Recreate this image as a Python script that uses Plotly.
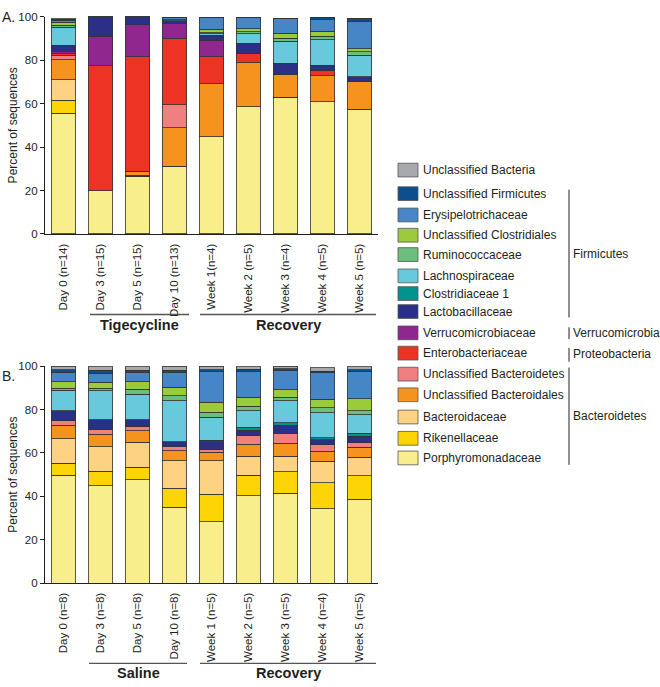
import plotly.graph_objects as go

W, H = 660, 687

# ---------------- data ----------------
families = [
    "Porphyromonadaceae", "Rikenellaceae", "Bacteroidaceae", "Unclassified Bacteroidales",
    "Unclassified Bacteroidetes", "Enterobacteriaceae", "Verrucomicrobiaceae", "Lactobacillaceae",
    "Clostridiaceae 1", "Lachnospiraceae", "Ruminococcaceae", "Unclassified Clostridiales",
    "Erysipelotrichaceae", "Unclassified Firmicutes", "Unclassified Bacteria",
]
colors = [
    "#F8EE8C", "#FDD406", "#FDD283", "#F6921E",
    "#F07F7F", "#EC3324", "#8F278F", "#2C2F86",
    "#01948F", "#68C8DC", "#6CBE7C", "#9BCB3B",
    "#4686C6", "#0D4E8C", "#A7A9AC",
]

categories_A = ["Day 0 (n=14)", "Day 3 (n=15)", "Day 5 (n=15)", "Day 10 (n=13)",
                "Week 1(n=4)", "Week 2 (n=5)", "Week 3 (n=4)", "Week 4 (n=5)", "Week 5 (n=5)"]
categories_B = ["Day 0 (n=8)", "Day 3 (n=8)", "Day 5 (n=8)", "Day 10 (n=8)",
                "Week 1 (n=5)", "Week 2 (n=5)", "Week 3 (n=5)", "Week 4 (n=4)", "Week 5 (n=5)"]

# Panel A (tigecycline), percent per family
porph_A    = [55.5, 19.8, 26.6, 31.2, 44.7, 58.5, 63.0, 60.9, 57.5]
riken_A    = [6.0, 0, 0, 0, 0, 0, 0, 0, 0]
bactac_A   = [9.5, 0, 0.5, 0, 0, 0, 0, 0, 0]
ubales_A   = [9.3, 0, 1.7, 17.7, 24.5, 20.4, 10.6, 12.0, 12.5]
ubetes_A   = [1.8, 0, 0, 10.5, 0, 0, 0, 0, 0]
entero_A   = [1.0, 57.7, 52.8, 30.5, 12.4, 4.2, 0, 2.4, 0]
verru_A    = [0.7, 13.5, 14.8, 7.2, 7.7, 0, 0, 0, 0]
lacto_A    = [3.0, 9.0, 3.6, 1.0, 2.1, 4.8, 5.0, 2.5, 2.4]
clost1_A   = [0.2, 0, 0, 0, 0, 0, 0, 0, 0]
lachno_A   = [8.3, 0, 0, 0.5, 0.8, 4.3, 10.1, 11.7, 10.0]
rumino_A   = [0.8, 0, 0, 0, 0.5, 1.0, 1.5, 1.5, 1.5]
uclostr_A  = [1.5, 0, 0, 0, 1.5, 1.2, 2.3, 2.4, 1.5]
erysip_A   = [0.6, 0, 0, 1.0, 5.5, 5.3, 6.6, 5.5, 12.6]
ufirm_A    = [0.6, 0, 0, 0.3, 0, 0, 0, 0.8, 1.0]
ubact_A    = [0.3, 0, 0, 0, 0, 0, 0, 0, 0]

# Panel B (saline)
porph_B    = [49.6, 44.8, 47.6, 35.0, 28.2, 40.3, 41.5, 34.3, 38.6]
riken_B    = [5.7, 6.8, 5.8, 8.6, 12.8, 9.5, 9.8, 12.0, 10.9]
bactac_B   = [11.1, 11.2, 11.4, 12.8, 15.4, 8.6, 7.1, 9.9, 8.5]
ubales_B   = [6.4, 5.7, 5.4, 4.6, 3.8, 5.6, 6.1, 4.5, 4.7]
ubetes_B   = [2.1, 2.3, 2.1, 1.8, 1.2, 4.2, 4.2, 3.0, 2.3]
entero_B   = [0, 0, 0, 0, 0, 0, 0, 0, 0]
verru_B    = [0, 0, 0, 0, 0, 0, 0, 0, 0]
lacto_B    = [4.5, 4.5, 3.0, 2.4, 3.8, 2.3, 4.1, 2.3, 2.7]
clost1_B   = [0, 0, 0, 0, 0.6, 1.2, 1.0, 1.0, 1.3]
lachno_B   = [9.5, 13.3, 11.8, 18.8, 10.7, 7.8, 10.3, 11.4, 8.6]
rumino_B   = [0.8, 1.2, 2.3, 2.3, 2.3, 1.9, 1.5, 2.4, 1.9]
uclostr_B  = [3.0, 2.7, 3.3, 4.0, 4.5, 4.2, 3.5, 4.0, 5.5]
erysip_B   = [4.5, 4.0, 4.4, 6.6, 14.1, 11.8, 8.7, 12.1, 12.6]
ufirm_B    = [1.0, 1.5, 1.0, 1.1, 1.0, 1.2, 1.0, 0.8, 0.8]
ubact_B    = [1.7, 1.8, 1.6, 1.9, 1.5, 1.2, 1.2, 1.5, 1.4]

values_A = [porph_A, riken_A, bactac_A, ubales_A, ubetes_A, entero_A, verru_A, lacto_A,
            clost1_A, lachno_A, rumino_A, uclostr_A, erysip_A, ufirm_A, ubact_A]
values_B = [porph_B, riken_B, bactac_B, ubales_B, ubetes_B, entero_B, verru_B, lacto_B,
            clost1_B, lachno_B, rumino_B, uclostr_B, erysip_B, ufirm_B, ubact_B]

y_ticks = [0, 20, 40, 60, 80, 100]
y_title = "Percent of sequences"

# ---------------- figure ----------------
def px(x):
    return x / W

def py(y):
    return 1 - y / H

FONT = "Arial, Liberation Sans, sans-serif"
TXT = "#231f20"

fig = go.Figure()
for fam, col, va, vb in zip(families, colors, values_A, values_B):
    fig.add_trace(go.Bar(x=categories_A, y=va, name=fam, marker_color=col,
                         marker_line_color="#333333", marker_line_width=0.8,
                         xaxis="x", yaxis="y", showlegend=False, hoverinfo="name+y"))
    fig.add_trace(go.Bar(x=categories_B, y=vb, name=fam, marker_color=col,
                         marker_line_color="#333333", marker_line_width=0.8,
                         xaxis="x2", yaxis="y2", showlegend=False, hoverinfo="name+y"))

x_dom = [px(45), px(378)]
xcommon = dict(domain=x_dom, range=[-0.5, 8.5], type="category", showline=True,
               linecolor=TXT, linewidth=1.3, ticks="", tickangle=-90,
               tickfont=dict(family=FONT, size=11.5, color=TXT), ticklabelstandoff=4,
               showgrid=False, zeroline=False, fixedrange=True)
ycommon = dict(range=[0, 100], tickvals=y_ticks, showline=True, linecolor=TXT, linewidth=1.3,
               ticks="outside", ticklen=4, tickwidth=1.2, tickcolor=TXT,
               tickfont=dict(family=FONT, size=11.5, color=TXT), showgrid=False, zeroline=False,
               fixedrange=True)

fig.update_layout(
    width=W, height=H, margin=dict(l=0, r=0, t=0, b=0),
    paper_bgcolor="white", plot_bgcolor="white",
    barmode="stack", bargap=0.33,
    xaxis=dict(**xcommon, anchor="y"),
    yaxis=dict(**ycommon, domain=[py(232), py(11)], anchor="x"),
    xaxis2=dict(**xcommon, anchor="y2"),
    yaxis2=dict(**ycommon, domain=[py(587.3), py(366.5)], anchor="x2"),
    font=dict(family=FONT, color=TXT),
)

shapes = []
annotations = []

# y-axis titles
for yc in (121.5, 477):
    annotations.append(dict(x=px(13), y=py(yc), xref="paper", yref="paper", text=y_title,
                            textangle=-90, showarrow=False, xanchor="center", yanchor="middle",
                            font=dict(family=FONT, size=12, color=TXT)))

# panel letters
annotations.append(dict(x=px(0), y=py(11), xref="paper", yref="paper", text="A.",
                        showarrow=False, xanchor="left", yanchor="middle",
                        font=dict(family=FONT, size=14, color=TXT)))
annotations.append(dict(x=px(0), y=py(377), xref="paper", yref="paper", text="B.",
                        showarrow=False, xanchor="left", yanchor="middle",
                        font=dict(family=FONT, size=14, color=TXT)))

# group labels under axes
groups = [
    (90, 189, 314, 325, "Tigecycline"),
    (200, 376, 314, 325, "Recovery"),
    (89, 187, 669, 679, "Saline"),
    (200, 376, 669, 679, "Recovery"),
]
for x0, x1, yl, yt, label in groups:
    shapes.append(dict(type="line", xref="paper", yref="paper", x0=px(x0), x1=px(x1),
                       y0=py(yl), y1=py(yl), line=dict(color="#555", width=1.3)))
    annotations.append(dict(x=px((x0 + x1) / 2), y=py(yt), xref="paper", yref="paper",
                            text="<b>%s</b>" % label, showarrow=False, xanchor="center",
                            yanchor="middle", font=dict(family=FONT, size=14.5, color=TXT)))

# manual legend (top to bottom)
legend_y = [167, 191, 212.7, 233.3, 253, 274.7, 292.7, 311, 332.7, 353.3,
            374.7, 395.7, 418.3, 440, 460]
for i, yy in enumerate(legend_y):
    idx = len(families) - 1 - i
    shapes.append(dict(type="rect", xref="paper", yref="paper", x0=px(398), x1=px(418),
                       y0=py(yy + 7), y1=py(yy - 7), fillcolor=colors[idx],
                       line=dict(color="#555", width=0.8)))
    annotations.append(dict(x=px(421), y=py(yy), xref="paper", yref="paper",
                            text=families[idx], showarrow=False, xanchor="left",
                            yanchor="middle", font=dict(family=FONT, size=12, color=TXT)))

brackets = [
    (187, 317, 252, "Firmicutes"),
    (327, 339, 333, "Verrucomicrobia"),
    (348, 362, 354, "Proteobacteria"),
    (368, 467, 417, "Bacteroidetes"),
]
for y0, y1, yt, label in brackets:
    shapes.append(dict(type="line", xref="paper", yref="paper", x0=px(569), x1=px(569),
                       y0=py(y0), y1=py(y1), line=dict(color=TXT, width=1)))
    annotations.append(dict(x=px(571), y=py(yt), xref="paper", yref="paper", text=label,
                            showarrow=False, xanchor="left", yanchor="middle",
                            font=dict(family=FONT, size=12, color=TXT)))

fig.update_layout(shapes=shapes, annotations=annotations)
fig.write_html("out.html", config={"displayModeBar": False},
               post_script="document.body.style.margin='0px';document.body.style.overflow='hidden';")
